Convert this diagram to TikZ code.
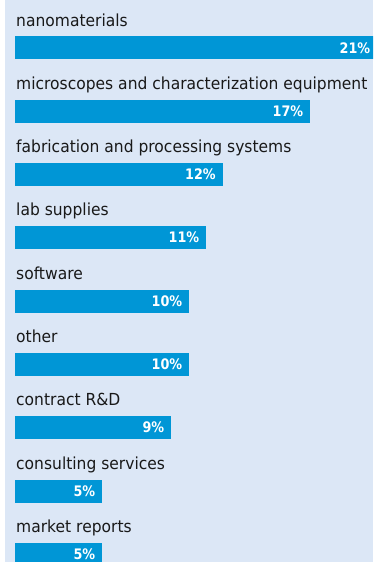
\documentclass[tikz,border=0pt]{standalone}
\usepackage{fontspec}
\setmainfont{DejaVu Sans}
\newfontfamily\catfont[FakeStretch=0.935]{DejaVu Sans}
\newfontfamily\pctfont[FakeStretch=0.88]{DejaVu Sans}
\definecolor{bgblue}{RGB}{220,231,246}
\definecolor{barblue}{RGB}{0,150,214}
\definecolor{txt}{RGB}{25,25,25}
\tikzset{
  barbox/.style={fill=barblue, draw=none, inner sep=0pt, anchor=north west, minimum height=23pt},
  catlabel/.style={anchor=base west, inner sep=0pt, text=txt, font=\catfont\fontsize{16.6}{19}\selectfont},
  pctlabel/.style={anchor=base east, inner sep=0pt, text=white, font=\pctfont\bfseries\fontsize{14.5}{16}\selectfont}
}
\begin{document}
\begin{tikzpicture}[x=1pt,y=-1pt]
\useasboundingbox (0,0) rectangle (373,562);
\fill[bgblue] (5,0) rectangle (373,562);
\begin{scope}
\clip (0,0) rectangle (373,562);
\foreach \i/\w/\p/\t in {
  0/362/21/nanomaterials,
  1/295/17/microscopes and characterization equipment,
  2/207.5/12/fabrication and processing systems,
  3/191/11/lab supplies,
  4/174/10/software,
  5/174/10/other,
  6/156/9/contract R\&D,
  7/87/5/consulting services,
  8/87/5/market reports}{
  \pgfmathsetmacro{\top}{36+63.33*\i}
  \node[catlabel] (l\i) at (16,\top-10) {\t};
  \node[barbox, minimum width=\w pt] (b\i) at (15,\top) {};
  \node[pctlabel] (p\i) at ([xshift=-7pt,yshift=-5.3pt]b\i.east) {\p\%};
}
\end{scope}
\end{tikzpicture}
\end{document}
